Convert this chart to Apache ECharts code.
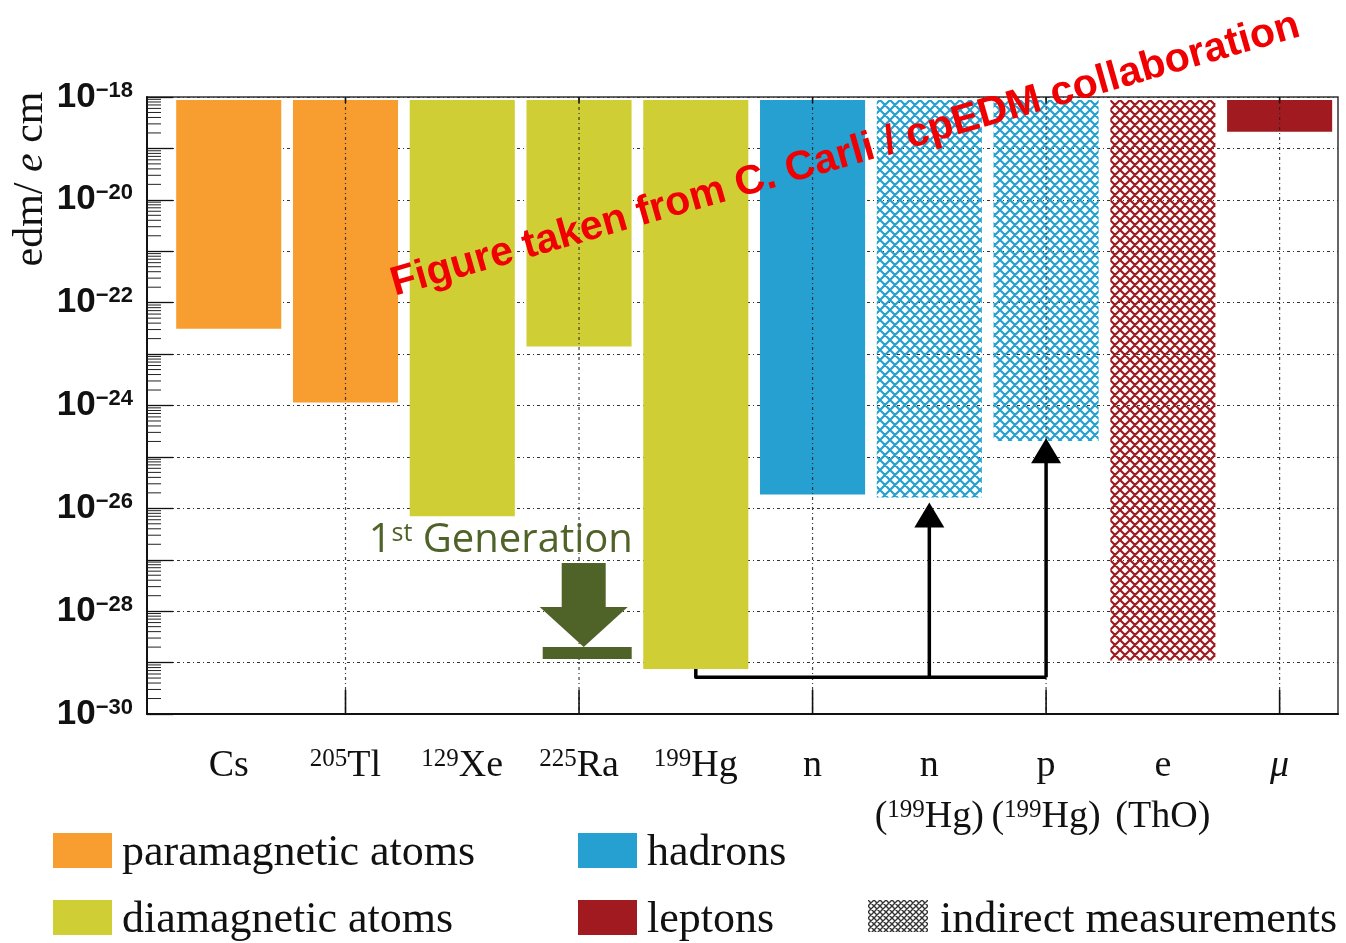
<!DOCTYPE html>
<html>
<head>
<meta charset="utf-8">
<script src="https://cdn.jsdelivr.net/npm/echarts@6/dist/echarts.min.js"></script>
<style>
  html, body { margin: 0; padding: 0; background: #fff; }
  #chart { width: 1346px; height: 943px; }
</style>
</head>
<body>
<div id="chart"></div>
<script>
// ---- EDM upper limits (e·cm), one bar per system ----
const symbols      = ['Cs', 'Tl', 'Xe', 'Ra', 'Hg', 'n', 'n', 'p', 'e', 'μ'];
const massNumbers  = ['', '205', '129', '225', '199', '', '', '', '', ''];
const subMass      = ['', '', '', '', '', '', '199', '199', '', ''];
const subSymbols   = ['', '', '', '', '', '', 'Hg', 'Hg', 'ThO', ''];
const edmLimits    = [3.1e-23, 1.14e-24, 7.0e-27, 1.4e-23, 7.5e-30, 1.85e-26, 1.63e-26, 2.05e-25, 1.1e-29, 2.1e-19];
const barTopValue  = 8.7e-19;
const groupOf      = [0, 0, 1, 1, 1, 2, 2, 2, 3, 3];
const indirect     = [false, false, false, false, false, false, true, true, true, false];
const groupNames   = ['paramagnetic atoms', 'diamagnetic atoms', 'hadrons', 'leptons'];
const indirectName = 'indirect measurements';

// y axis: decades of the log scale
const yMinExp = -30;
const yMaxExp = -18;
const minorMultipliers = [2, 3, 4, 5, 6, 7, 8, 9];
// x positions of the tick marks / vertical grid lines
const xTickPositions = [2, 4, 6, 8, 10];

// arrows from the 199Hg result to the limits derived from it
const linkSource = 4;                 // index of 199Hg
const linkTargets = [6, 7];           // n(199Hg), p(199Hg)
const linkTipValues = [1.3e-26, 2.3e-25];
const linkLevel = 5.2e-30;

// "1st Generation" marker
const genMarkerX = 4.04;
const genMarkerValue = 2.0e-29;

// ---- styling ----
const groupColors = ['#F89E31', '#CFCE34', '#26A0D0', '#A01A20'];
const SERIF = '"Liberation Serif", "Times New Roman", serif';
const SANS = '"Liberation Sans", Arial, sans-serif';
const BAR_HALF = 0.45;
const X_MIN = 0.3, X_MAX = 10.5;

const L = Math.log10;
const xPositions = symbols.map((_, i) => i + 1);

function hatchPattern(color, size, width) {
  const c = document.createElement('canvas');
  c.width = c.height = size;
  const g = c.getContext('2d');
  g.strokeStyle = color;
  g.lineWidth = width;
  g.beginPath();
  for (const k of [-size, 0, size]) {
    g.moveTo(k, 0); g.lineTo(k + size, size);
    g.moveTo(k, size); g.lineTo(k + size, 0);
  }
  g.stroke();
  return { image: c, repeat: 'repeat' };
}
const hatchByGroup = groupColors.map(c => hatchPattern(c, 10, 2.2));
const legendHatch = hatchPattern('#333', 6, 1.4);

const chart = echarts.init(document.getElementById('chart'));

// bars hang from the top of the plot down to the limit
const barData = edmLimits.map((v, i) => [xPositions[i], L(v), L(barTopValue)]);
function renderBar(params, api) {
  const i = params.dataIndex;
  const x = api.value(0);
  const p0 = api.coord([x - BAR_HALF, api.value(2)]);
  const p1 = api.coord([x + BAR_HALF, api.value(1)]);
  const fill = indirect[i] ? hatchByGroup[groupOf[i]] : groupColors[groupOf[i]];
  return {
    type: 'rect',
    shape: { x: p0[0], y: p0[1], width: p1[0] - p0[0], height: p1[1] - p0[1] },
    style: { fill: fill, stroke: null }
  };
}

// minor ticks of the logarithmic y axis
const minorTickData = [];
for (let e = yMinExp; e < yMaxExp; e++) {
  for (const m of minorMultipliers) minorTickData.push([X_MIN, e + L(m)]);
}
function renderMinorTick(params, api) {
  const p = api.coord([api.value(0), api.value(1)]);
  return {
    type: 'line',
    shape: { x1: p[0], y1: p[1], x2: p[0] + 14, y2: p[1] },
    style: { stroke: '#222', lineWidth: 1 }
  };
}

// vertical dotted grid lines with ticks on the x axis
function renderXGrid(params, api) {
  const x = api.value(0);
  const top = api.coord([x, yMaxExp]);
  const bot = api.coord([x, yMinExp]);
  return {
    type: 'group',
    children: [
      { type: 'line', shape: { x1: top[0], y1: top[1], x2: bot[0], y2: bot[1] },
        style: { stroke: '#222', lineWidth: 1.2, lineDash: [3, 3, 1, 3], opacity: 0.85 } },
      { type: 'line', shape: { x1: bot[0], y1: bot[1] - 24, x2: bot[0], y2: bot[1] },
        style: { stroke: '#111', lineWidth: 1.6 } },
      { type: 'line', shape: { x1: top[0], y1: top[1], x2: top[0], y2: top[1] + 6 },
        style: { stroke: '#111', lineWidth: 1.6 } }
    ]
  };
}

// arrows linking the 199Hg measurement to the derived limits
function renderLinks(params, api) {
  const start = api.coord([xPositions[linkSource], L(edmLimits[linkSource])]);
  const levelY = api.coord([xPositions[linkSource], L(linkLevel)])[1];
  const tips = linkTargets.map((t, k) => api.coord([xPositions[t], L(linkTipValues[k])]));
  const maxX = Math.max.apply(null, tips.map(p => p[0]));
  const children = [{
    type: 'polyline',
    shape: { points: [start, [start[0], levelY], [maxX, levelY]] },
    style: { stroke: '#000', lineWidth: 3.5, fill: 'none', lineJoin: 'round' }
  }];
  tips.forEach(p => {
    children.push({ type: 'line', shape: { x1: p[0], y1: levelY, x2: p[0], y2: p[1] + 20 },
      style: { stroke: '#000', lineWidth: 3.5 } });
    children.push({ type: 'polygon', shape: { points: [[p[0], p[1]], [p[0] - 15, p[1] + 25], [p[0] + 15, p[1] + 25]] },
      style: { fill: '#000' } });
  });
  return { type: 'group', children };
}

// "1st Generation" arrow and caption
function renderGeneration(params, api) {
  const t = api.coord([api.value(0), api.value(1)]);
  const c = '#4F6228';
  return {
    type: 'group',
    children: [
      { type: 'rect', shape: { x: t[0] - 22, y: t[1] - 84, width: 44, height: 46 }, style: { fill: c } },
      { type: 'polygon', shape: { points: [[t[0] - 44, t[1] - 40], [t[0] + 44, t[1] - 40], [t[0], t[1]]] }, style: { fill: c } },
      { type: 'rect', shape: { x: t[0] - 41, y: t[1], width: 89, height: 12 }, style: { fill: c } },
      { type: 'text', x: t[0] - 215, y: t[1] - 86,
        style: {
          text: '{n|1}{s|st}{n| Generation}',
          align: 'left', verticalAlign: 'bottom', fill: c,
          rich: {
            n: { fontFamily: '"Open Sans", sans-serif', fontSize: 40, lineHeight: 40, verticalAlign: 'bottom', fill: c },
            s: { fontFamily: '"Open Sans", sans-serif', fontSize: 25, lineHeight: 25, verticalAlign: 'top', padding: [0, 0, 15, 0], fill: c }
          }
        } }
    ]
  };
}

// category labels under the x axis
const catRich = {
  m: { fontFamily: SERIF, fontSize: 38, lineHeight: 38, verticalAlign: 'bottom', fill: '#111' },
  mu: { fontFamily: SERIF, fontSize: 38, lineHeight: 38, fontStyle: 'italic', verticalAlign: 'bottom', fill: '#111' },
  s: { fontFamily: SERIF, fontSize: 25, lineHeight: 25, verticalAlign: 'top', padding: [0, 0, 22, 0], fill: '#111' }
};
function labelText(mass, sym) {
  const main = sym === 'μ' ? `{mu|${sym}}` : `{m|${sym}}`;
  return mass ? `{s|${mass}}${main}` : main;
}
function renderCategory(params, api) {
  const i = params.dataIndex;
  const p = api.coord([api.value(0), yMinExp]);
  const children = [{
    type: 'text', x: p[0], y: p[1] + 71,
    style: { text: labelText(massNumbers[i], symbols[i]), align: 'center', verticalAlign: 'bottom', rich: catRich }
  }];
  if (subSymbols[i]) {
    const inner = subMass[i] ? `{m|(}{s|${subMass[i]}}{m|${subSymbols[i]})}` : `{m|(${subSymbols[i]})}`;
    children.push({
      type: 'text', x: p[0], y: p[1] + 122,
      style: { text: inner, align: 'center', verticalAlign: 'bottom', rich: catRich }
    });
  }
  return { type: 'group', children };
}

// legend built from the group names and colours
const legendGraphics = [];
const legendSlots = [[53, 833], [53, 900], [578, 833], [578, 900]];
groupNames.forEach((name, g) => {
  const [lx, ly] = legendSlots[g];
  legendGraphics.push({ type: 'rect', left: lx, top: ly, shape: { width: 59, height: 35 }, style: { fill: groupColors[g] } });
  legendGraphics.push({ type: 'text', x: lx + 69, y: ly + 20,
    style: { text: name, font: `44px ${SERIF}`, fill: '#111', align: 'left', verticalAlign: 'middle' } });
});
legendGraphics.push({ type: 'rect', left: 868, top: 900, shape: { width: 60, height: 32 }, style: { fill: legendHatch } });
legendGraphics.push({ type: 'text', x: 940, y: 920,
  style: { text: indirectName, font: `44px ${SERIF}`, fill: '#111', align: 'left', verticalAlign: 'middle' } });

const option = {
  animation: false,
  backgroundColor: '#fff',
  grid: { left: 147, right: 8, top: 97, bottom: 229, show: true, borderColor: '#333', borderWidth: 1.5, backgroundColor: 'transparent' },
  xAxis: {
    type: 'value', min: X_MIN, max: X_MAX,
    axisLine: { show: true, onZero: false, lineStyle: { color: '#111', width: 2 } },
    axisTick: { show: false }, axisLabel: { show: false }, splitLine: { show: false }
  },
  yAxis: {
    type: 'value', min: yMinExp, max: yMaxExp, interval: 1,
    axisLine: { show: true, lineStyle: { color: '#111', width: 2 } },
    axisTick: { show: true, inside: true, length: 26, lineStyle: { color: '#111', width: 1.3 } },
    splitLine: { show: true, lineStyle: { color: '#333', width: 1.2, type: [3, 3, 1, 3] } },
    axisLabel: {
      margin: 14,
      formatter: v => (Math.round(v) % 2 === 0 ? `{b|10}{s|−${-Math.round(v)}}` : ''),
      rich: {
        b: { fontFamily: SANS, fontWeight: 'bold', fontSize: 35, lineHeight: 35, verticalAlign: 'bottom', color: '#111' },
        s: { fontFamily: SANS, fontWeight: 'bold', fontSize: 22, lineHeight: 22, verticalAlign: 'top', padding: [0, 0, 16, 0], color: '#111' }
      }
    }
  },
  series: [
    { type: 'custom', name: 'limits', z: 2, silent: true, renderItem: renderBar, data: barData },
    { type: 'custom', name: 'minorTicks', z: 3, silent: true, renderItem: renderMinorTick, data: minorTickData },
    { type: 'custom', name: 'xGrid', z: 4, silent: true, renderItem: renderXGrid, data: xTickPositions.map(x => [x, yMinExp]) },
    { type: 'custom', name: 'links', z: 5, silent: true, renderItem: renderLinks, data: [[xPositions[linkSource], L(edmLimits[linkSource])]] },
    { type: 'custom', name: 'generation', z: 5, silent: true, renderItem: renderGeneration, data: [[genMarkerX, L(genMarkerValue)]] },
    { type: 'custom', name: 'categories', z: 5, silent: true, renderItem: renderCategory, data: xPositions.map(x => [x, yMinExp]) }
  ],
  graphic: [
    { type: 'text', x: 31, y: 179, rotation: Math.PI / 2,
      style: {
        text: '{r|edm/ }{i|e}{r| cm}', align: 'center', verticalAlign: 'middle',
        rich: {
          r: { fontFamily: SERIF, fontSize: 42, fill: '#111' },
          i: { fontFamily: SERIF, fontSize: 42, fontStyle: 'italic', fill: '#111' }
        }
      } },
    ...legendGraphics,
    { type: 'text', x: 392, y: 285, rotation: 16 * Math.PI / 180, z: 100,
      style: { text: 'Figure taken from C. Carli / cpEDM collaboration', font: `bold 41px ${SANS}`, fill: '#F00000', align: 'left', verticalAlign: 'middle' } }
  ]
};
chart.setOption(option);
</script>
</body>
</html>
